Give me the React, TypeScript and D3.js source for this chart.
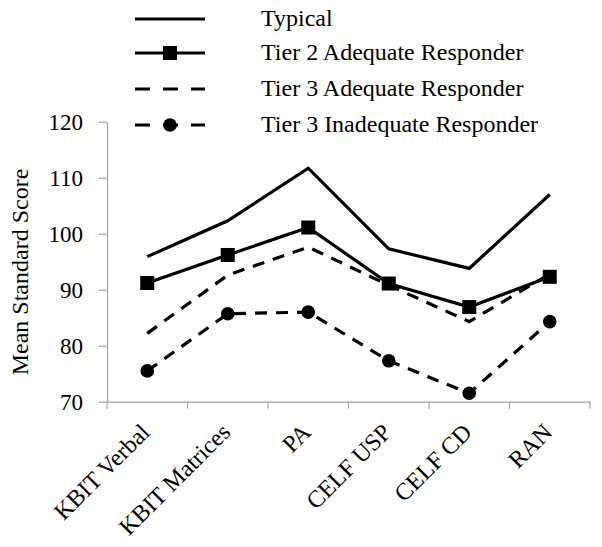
import React, { useEffect, useRef } from "react"
import * as d3 from "d3"

const categories = ["KBIT Verbal", "KBIT Matrices", "PA", "CELF USP", "CELF CD", "RAN"]
const typical = [95.9, 102.3, 111.7, 97.3, 93.8, 107.0]
const tier2Adequate = [91.2, 96.2, 101.1, 91.1, 86.9, 92.3]
const tier3Adequate = [82.2, 92.6, 97.6, 90.8, 84.3, 92.8]
const tier3Inadequate = [75.5, 85.7, 86.0, 77.3, 71.5, 84.3]
const yTicks = [70, 80, 90, 100, 110, 120]

const seriesNames = [
    "Typical",
    "Tier 2 Adequate Responder",
    "Tier 3 Adequate Responder",
    "Tier 3 Inadequate Responder",
]

const W = 602
const H = 547
const FONT = "'Liberation Serif', 'Times New Roman', serif"

export default function App() {
    const ref = useRef<SVGSVGElement>(null)

    useEffect(() => {
        const svg = d3.select(ref.current)
        svg.selectAll("*").remove()

        const left = 107
        const right = 590
        const top = 121.7
        const bottom = 401.7

        const x = d3.scaleBand().domain(categories).range([left, right])
        const y = d3.scaleLinear().domain([70, 120]).range([bottom, top])
        const cx = (c: string) => (x(c) as number) + x.bandwidth() / 2

        const series = [
            { name: seriesNames[0], values: typical, dash: null, marker: null },
            { name: seriesNames[1], values: tier2Adequate, dash: null, marker: "square" },
            { name: seriesNames[2], values: tier3Adequate, dash: "12,9", marker: null },
            { name: seriesNames[3], values: tier3Inadequate, dash: "12,9", marker: "circle" },
        ]

        // axes
        const axisColor = "#a6a6a6"
        const yAxis = svg.append("g").attr("transform", `translate(${left},0)`)
            .call(d3.axisLeft(y).tickValues(yTicks).tickSize(8).tickSizeOuter(0).tickPadding(16))
        yAxis.select(".domain").attr("stroke", axisColor).attr("stroke-width", 1.2)
        yAxis.selectAll(".tick line").attr("stroke", axisColor).attr("stroke-width", 1.2)
        yAxis.selectAll(".tick text")
            .attr("font-family", FONT).attr("font-size", 23).attr("fill", "#000")

        const xAxis = svg.append("g").attr("transform", `translate(0,${bottom})`)
            .call(d3.axisBottom(x).tickSize(0).tickFormat(() => ""))
        xAxis.select(".domain").attr("stroke", axisColor).attr("stroke-width", 1.2)
        const bounds = [left, ...categories.map(c => (x(c) as number) + x.bandwidth())]
        svg.append("g").selectAll("line").data(bounds).join("line")
            .attr("x1", d => d).attr("x2", d => d)
            .attr("y1", bottom).attr("y2", bottom + 7)
            .attr("stroke", axisColor).attr("stroke-width", 1.2)

        svg.append("g").selectAll("text").data(categories).join("text")
            .attr("transform", d => `translate(${cx(d) + 4},${bottom + 32}) rotate(-45)`)
            .attr("text-anchor", "end")
            .attr("font-family", FONT).attr("font-size", 24)
            .text(d => d)

        svg.append("text")
            .attr("transform", `translate(28,272) rotate(-90)`)
            .attr("text-anchor", "middle")
            .attr("font-family", FONT).attr("font-size", 24)
            .text("Mean Standard Score")

        const line = d3.line<number>()
            .x((_, i) => cx(categories[i]))
            .y(d => y(d))

        const drawMarker = (g: any, kind: string | null, px: number, py: number) => {
            if (kind === "square") {
                g.append("rect").attr("x", px - 7).attr("y", py - 7)
                    .attr("width", 14).attr("height", 14).attr("fill", "#000")
            } else if (kind === "circle") {
                g.append("circle").attr("cx", px).attr("cy", py).attr("r", 6.8).attr("fill", "#000")
            }
        }

        series.forEach(s => {
            const g = svg.append("g")
            g.append("path")
                .attr("d", line(s.values))
                .attr("fill", "none")
                .attr("stroke", "#000")
                .attr("stroke-width", 3.2)
                .attr("stroke-dasharray", s.dash)
            s.values.forEach((v, i) => drawMarker(g, s.marker, cx(categories[i]), y(v)))
        })

        // legend
        const legendY = [19, 53, 89, 125]
        series.forEach((s, i) => {
            const g = svg.append("g")
            g.append("line")
                .attr("x1", 135).attr("x2", 205)
                .attr("y1", legendY[i]).attr("y2", legendY[i])
                .attr("stroke", "#000").attr("stroke-width", 3.2)
                .attr("stroke-dasharray", s.dash ? "15,13" : null)
            drawMarker(g, s.marker, 170, legendY[i])
            g.append("text")
                .attr("x", 261).attr("y", legendY[i] + 7)
                .attr("font-family", FONT).attr("font-size", 24)
                .text(s.name)
        })
    }, [])

    return (
        <svg ref={ref} width={W} height={H}
            style={{ position: "absolute", left: 0, top: 0, background: "#fff" }} />
    )
}
